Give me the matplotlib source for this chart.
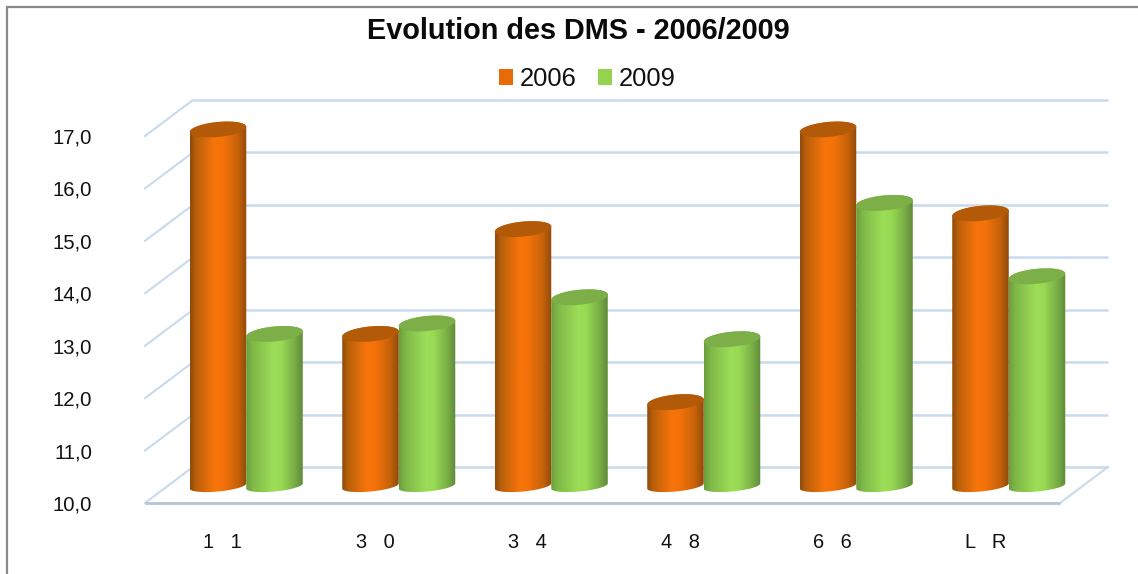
import numpy as np
import matplotlib
matplotlib.use("Agg")
import matplotlib.pyplot as plt
from matplotlib.colors import LinearSegmentedColormap
from matplotlib.patches import Polygon, Rectangle
from matplotlib.transforms import ScaledTranslation

categories = ["1   1", "3   0", "3   4", "4   8", "6   6", "L   R"]
series_names = ["2006", "2009"]
values_2006 = [16.8, 12.9, 14.9, 11.6, 16.8, 15.2]
values_2009 = [12.9, 13.1, 13.6, 12.8, 15.4, 14.0]
y_ticks = [10, 11, 12, 13, 14, 15, 16, 17]

W, H = 1138, 574
plt.rcParams["font.family"] = ["Liberation Sans", "DejaVu Sans"]
fig = plt.figure(figsize=(W / 100, H / 100), dpi=100, facecolor="white")

L, R, T, B = 145, 1060, 136, 503
ax = fig.add_axes([L / W, 1 - B / H, (R - L) / W, (B - T) / H])
ax.set_xlim(-0.5, 5.5)
ax.set_ylim(10, 17)
ux = (R - L) / 6          # pixels per category
uy = (B - T) / 7          # pixels per value unit
wall_dx, wall_dy = 48 / ux, 36 / uy
mid_dx, mid_dy = 25 / ux, 17 / uy

# frame (left and top edges only are inside the crop)
fig.add_artist(Rectangle((6.5 / W, -0.1), 1.1, 1.1 - 7 / H, transform=fig.transFigure,
                         fill=False, ec="#8A8A8A", lw=1.6))

grid_c = "#C9DAEC"
for v in y_ticks:
    ax.plot([-0.5 + wall_dx, 5.5 + wall_dx], [v + wall_dy] * 2, color=grid_c, lw=1.8,
            clip_on=False, zorder=1, solid_capstyle="butt")
    ax.plot([-0.5, -0.5 + wall_dx], [v, v + wall_dy], color=grid_c, lw=1.5,
            clip_on=False, zorder=1)
ax.plot([5.5, 5.5 + wall_dx], [10, 10 + wall_dy], color=grid_c, lw=1.5, clip_on=False, zorder=1)
ax.plot([-0.5, 5.5], [10, 10], color="#B4C3D6", lw=2.0, clip_on=False, zorder=1.5,
        solid_capstyle="butt")

orange = LinearSegmentedColormap.from_list(
    "o", [(0, "#8F4A0C"), (0.10, "#B85F0A"), (0.42, "#F6740A"), (0.58, "#F47209"),
          (0.85, "#C5620A"), (1, "#8F4A0A")])
green = LinearSegmentedColormap.from_list(
    "g", [(0, "#6C9E3C"), (0.12, "#80B948"), (0.48, "#9CDE57"), (0.62, "#98DA54"),
          (0.88, "#75A844"), (1, "#5F8A38")])
grad = np.linspace(0, 1, 128).reshape(1, -1)

bar_w = 56.5 / ux
ell_h = 7.5 / uy
base_h = 5.5 / uy
tilt = 2.6 / uy
t = np.linspace(0, 2 * np.pi, 121)


def cylinder(xc, val, cmap, top_color, z):
    x0, x1 = xc - bar_w / 2, xc + bar_w / 2
    base = 10 + mid_dy
    top = val + mid_dy
    # outline: lower half of the base ellipse, then the upper half of the top ellipse
    tb = np.linspace(np.pi, 2 * np.pi, 60)
    tt = np.linspace(0, np.pi, 60)
    xs = np.r_[xc + bar_w / 2 * np.cos(tb), xc + bar_w / 2 * np.cos(tt)]
    ys = np.r_[base + base_h * np.sin(tb) + tilt * np.cos(tb),
               top + ell_h * np.sin(tt) + tilt * np.cos(tt)]
    body = Polygon(np.c_[xs, ys], closed=True, transform=ax.transData, fc="none", ec="none")
    ax.add_patch(body)
    body.set_clip_on(False)
    im = ax.imshow(grad, extent=[x0, x1, base - 2 * ell_h, top + 2 * ell_h], cmap=cmap,
                   aspect="auto", interpolation="bilinear", zorder=z)
    im.set_clip_box(fig.bbox)
    im.set_clip_path(body)
    cap = Polygon(np.c_[xc + bar_w / 2 * np.cos(t),
                        top + ell_h * np.sin(t) + tilt * np.cos(t)],
                  closed=True, fc=top_color, ec="none", zorder=z + 0.1, clip_on=False)
    ax.add_patch(cap)


for i in range(len(categories)):
    cylinder(i + mid_dx - bar_w / 2, values_2006[i], orange, "#B35A08", 2 + i)
    cylinder(i + mid_dx + bar_w / 2, values_2009[i], green, "#7CAF47", 2.5 + i)

ax.set_xlim(-0.5, 5.5)
ax.set_ylim(10, 17)

for s in ax.spines.values():
    s.set_visible(False)
ax.patch.set_alpha(0)
ax.set_yticks(y_ticks)
ax.set_yticklabels([f"{v:.1f}".replace(".", ",") for v in y_ticks], fontsize=14.6, color="#111111")
ax.set_xticks(range(len(categories)))
ax.set_xticklabels(categories, fontsize=14.4, color="#111111")
ax.tick_params(axis="both", length=0)
ax.tick_params(axis="y", pad=38)
ax.tick_params(axis="x", pad=21.5)
shift = ScaledTranslation(1.5 / 100, 0, fig.dpi_scale_trans)
for lab in ax.get_xticklabels():
    lab.set_transform(lab.get_transform() + shift)

fig.text(578.5 / W, 1 - 31 / H, "Evolution des DMS - 2006/2009", fontsize=20.8, fontweight="bold",
         ha="center", va="center", color="#0A0A0A")

handles = [Rectangle((0, 0), 1, 1, fc=c, ec="none") for c in ("#E76C08", "#95D34F")]
fig.legend(handles, series_names, loc="center", bbox_to_anchor=(587.5 / W, 1 - 79 / H), ncol=2,
           frameon=False, fontsize=18.4, handlelength=0.55, handleheight=0.55, handletextpad=0.25,
           columnspacing=0.85, labelcolor="#111111", borderpad=0, borderaxespad=0)

fig.savefig("out.png", dpi=100, facecolor="white")
